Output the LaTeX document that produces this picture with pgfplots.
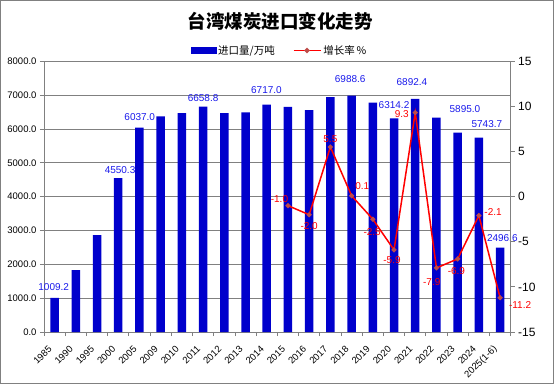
\documentclass[border=0pt]{standalone}
\usepackage{pgfplots}
\pgfplotsset{compat=1.18}
\usepackage{pgfplotstable}
\usepackage{fontspec}
\setmainfont{Liberation Sans}
\newfontfamily\cjk{Noto Sans CJK SC}
\definecolor{barblue}{RGB}{0,0,204}
\definecolor{lblblue}{RGB}{25,25,235}
\definecolor{mkc}{RGB}{190,75,72}
\definecolor{gridg}{RGB}{128,128,128}

\pgfplotstableread{
x v
0 1009.2
1 1830
2 2860
3 4550.3
4 6037.0
5 6375
6 6470
7 6658.8
8 6470
9 6490
10 6717.0
11 6650
12 6560
13 6944
14 6988.6
15 6777
16 6314.2
17 6892.4
18 6335
19 5895.0
20 5743.7
21 2496.6
}\bardata

\pgfplotstableread{
x v dx dy lab
0 1009.2 -0.9 11 1009.2
3 4550.3 1.8 8 4550.3
4 6037.0 0.3 11 6037.0
7 6658.8 0 8.4 6658.8
10 6717.0 -0.3 14.7 6717.0
14 6988.6 -1.4 16.5 6988.6
16 6314.2 0 13 6314.2
17 6892.4 -3.3 17 6892.4
19 5895.0 7.3 23 5895.0
20 5743.7 8 14 5743.7
21 2496.6 2.2 9.5 2496.6
}\barlabels

\pgfplotstableread{
x g dx dy
11 -1.0 -8.5 6.3
12 -2.0 0 -11.3
13 5.5 0 8
14 0.1 10.7 9.3
15 -2.5 -0.7 -13
16 -5.9 -2 -10
17 9.3 -13.5 -1.6
18 -7.9 -4.7 -13.7
19 -6.9 -1.3 -12.3
20 -2.1 14.2 3.4
21 -11.2 20 -7.3
}\growth

\begin{document}
\begin{tikzpicture}
\useasboundingbox (0pt,0pt) rectangle (556pt,386pt);
\draw[gridg, line width=1.2pt] (0.6pt,2.4pt) rectangle (553.3pt,385.4pt);
\node[font=\cjk\bfseries\fontsize{18.5}{20}\selectfont] at (280pt,365pt) {台湾煤炭进口变化走势};

\begin{axis}[
  at={(44pt,54pt)}, anchor=south west,
  scale only axis, width=466.7pt, height=270.7pt,
  xmin=-0.5, xmax=21.5, ymin=0, ymax=8000,
  xtick={0,...,21},
  xticklabels={1985,1990,1995,2000,2005,2009,2010,2011,2012,2013,2014,2015,2016,2017,2018,2019,2020,2021,2022,2023,2024,2025(1-6)},
  minor xtick={-0.5,0.5,...,21.5},
  ytick={0,1000,...,8000},
  ymajorgrids,
  grid style={gridg, line width=0.8pt},
  axis line style={gridg, line width=0.8pt},
  tick align=outside, tick pos=left,
  major tick length=4pt, minor tick length=4pt,
  every tick/.style={gridg, line width=0.8pt},
  major x tick style={draw=none},
  /pgf/number format/assume math mode=true,
  yticklabel style={font=\fontsize{9.5}{11}\selectfont, text=black,
    /pgf/number format/fixed, /pgf/number format/fixed zerofill,
    /pgf/number format/precision=1, /pgf/number format/1000 sep={}},
  xticklabel style={font=\fontsize{9.5}{11}\selectfont, text=black, anchor=east, xshift=-2pt, yshift=-9pt, rotate=45},
  clip=false,
]
\addplot[ybar, bar width=8.5pt, fill=barblue, draw=none] table[x=x, y=v] {\bardata};
\addplot[draw=none, mark=none, nodes near coords, point meta=explicit symbolic,
  visualization depends on={\thisrow{dx} \as \dx},
  visualization depends on={\thisrow{dy} \as \dy},
  every node near coord/.append style={anchor=center, xshift=\dx pt, yshift=\dy pt, text=lblblue, font=\fontsize{10}{12}\selectfont, inner sep=0pt}]
  table[x=x, y=v, meta=lab] {\barlabels};
\end{axis}

\begin{axis}[
  at={(44pt,54pt)}, anchor=south west,
  scale only axis, width=466.7pt, height=270.7pt,
  xmin=-0.5, xmax=21.5, ymin=-15, ymax=15,
  ytick={-15,-10,...,15},
  axis y line*=right, axis x line=none,
  axis line style={gridg, line width=0.8pt},
  tick align=outside, major tick length=4pt,
  every tick/.style={gridg, line width=0.8pt},
  /pgf/number format/assume math mode=true,
  yticklabel style={font=\fontsize{12}{14}\selectfont, text=black},
  clip=false,
  legend style={at={(0.5046,1.04)}, anchor=center, draw=none, fill=none,
    legend columns=2, font=\cjk\fontsize{10.5}{12}\selectfont,
    /tikz/every even column/.append style={column sep=16pt}},
]
\addlegendimage{legend image code/.code={\fill[barblue] (0pt,-3pt) rectangle (25pt,3pt);}}
\addlegendentry{进口量/万吨}
\addplot[red, line width=1.5pt, mark=*, mark size=1.7pt, mark options={fill=mkc, draw=mkc},
  nodes near coords, point meta=explicit symbolic,
  visualization depends on={\thisrow{dx} \as \dx},
  visualization depends on={\thisrow{dy} \as \dy},
  every node near coord/.append style={anchor=center, xshift=\dx pt, yshift=\dy pt, text=red, font=\fontsize{10}{12}\selectfont, inner sep=0pt},
  legend image code/.code={\draw[red, line width=1.5pt] (0pt,0pt)--(27pt,0pt); \fill[mkc] (13.5pt,0pt) circle (1.8pt);}]
  table[x=x, y=g, meta=g] {\growth};
\addlegendentry{增长率\,\%}
\end{axis}
\end{tikzpicture}
\end{document}
